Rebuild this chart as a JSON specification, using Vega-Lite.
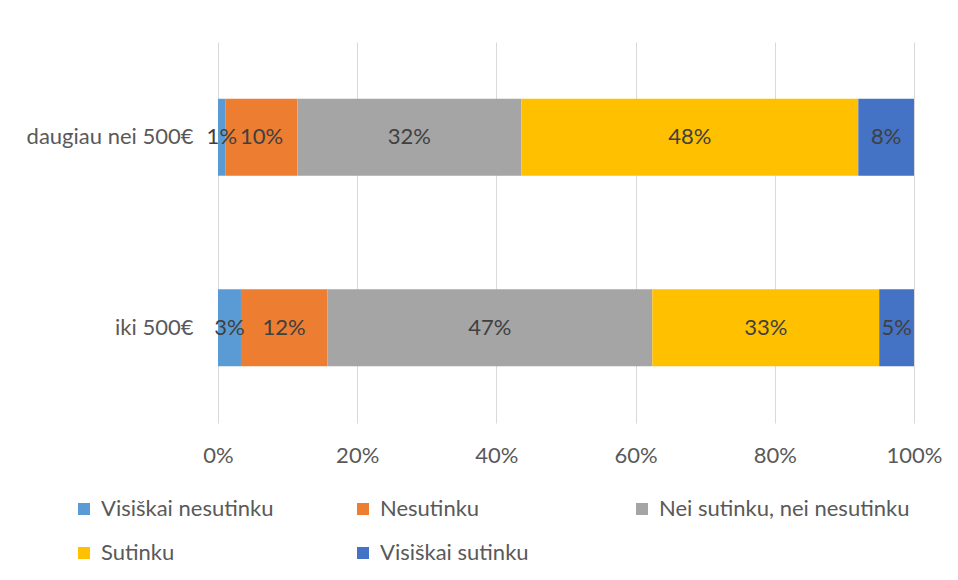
{
  "$schema": "https://vega.github.io/schema/vega-lite/v6.json",
  "width": 696,
  "height": 381,
  "autosize": {"type": "none"},
  "padding": {"left": 218, "top": 42, "right": 44, "bottom": 157},
  "background": "white",
  "config": {
    "font": "Lato",
    "view": {"stroke": null},
    "axis": {"labelFont": "Lato", "labelFontSize": 22, "labelColor": "#595959", "domain": false, "ticks": false, "title": null},
    "legend": {"labelFont": "Lato", "labelFontSize": 22, "labelColor": "#595959"}
  },
  "data": {
    "values": [
      {"group": "daugiau nei 500€", "answer": "Visiškai nesutinku", "k": 1, "value": 0.011},
      {"group": "daugiau nei 500€", "answer": "Nesutinku", "k": 2, "value": 0.103},
      {"group": "daugiau nei 500€", "answer": "Nei sutinku, nei nesutinku", "k": 3, "value": 0.322},
      {"group": "daugiau nei 500€", "answer": "Sutinku", "k": 4, "value": 0.484},
      {"group": "daugiau nei 500€", "answer": "Visiškai sutinku", "k": 5, "value": 0.080},
      {"group": "iki 500€", "answer": "Visiškai nesutinku", "k": 1, "value": 0.033},
      {"group": "iki 500€", "answer": "Nesutinku", "k": 2, "value": 0.124},
      {"group": "iki 500€", "answer": "Nei sutinku, nei nesutinku", "k": 3, "value": 0.467},
      {"group": "iki 500€", "answer": "Sutinku", "k": 4, "value": 0.326},
      {"group": "iki 500€", "answer": "Visiškai sutinku", "k": 5, "value": 0.050}
    ]
  },
  "encoding": {
    "y": {
      "field": "group", "type": "nominal",
      "sort": ["daugiau nei 500€", "iki 500€"],
      "scale": {"paddingInner": 0.596, "paddingOuter": 0.298},
      "axis": {"labelPadding": 25, "grid": false}
    }
  },
  "layer": [
    {
      "mark": {"type": "bar"},
      "encoding": {
        "x": {
          "field": "value", "type": "quantitative", "stack": "normalize",
          "scale": {"domain": [0, 1]},
          "axis": {"format": ".0%", "values": [0, 0.2, 0.4, 0.6, 0.8, 1], "grid": true, "gridColor": "#D9D9D9", "gridWidth": 1, "labelPadding": 22, "labelFlush": false, "labelOverlap": false}
        },
        "color": {
          "field": "answer", "type": "nominal",
          "scale": {
            "domain": ["Visiškai nesutinku", "Nesutinku", "Nei sutinku, nei nesutinku", "Sutinku", "Visiškai sutinku"],
            "range": ["#5B9BD5", "#ED7D31", "#A5A5A5", "#FFC000", "#4472C4"]
          },
          "legend": {
            "title": null, "orient": "none", "legendX": -145, "legendY": 456, "padding": 0,
            "direction": "horizontal", "columns": 3, "gridAlign": "all",
            "columnPadding": -5, "rowPadding": 22,
            "symbolType": "square", "symbolSize": 144, "symbolStrokeWidth": 0,
            "labelOffset": 6, "labelLimit": 400
          }
        },
        "order": {"field": "k", "type": "quantitative"}
      }
    },
    {
      "mark": {"type": "text", "fontSize": 22, "color": "#404040", "font": "Lato"},
      "encoding": {
        "x": {"field": "value", "type": "quantitative", "stack": "normalize", "bandPosition": 0.5},
        "detail": {"field": "answer", "type": "nominal"},
        "order": {"field": "k", "type": "quantitative"},
        "text": {"field": "value", "type": "quantitative", "format": ".0%"}
      }
    }
  ]
}
